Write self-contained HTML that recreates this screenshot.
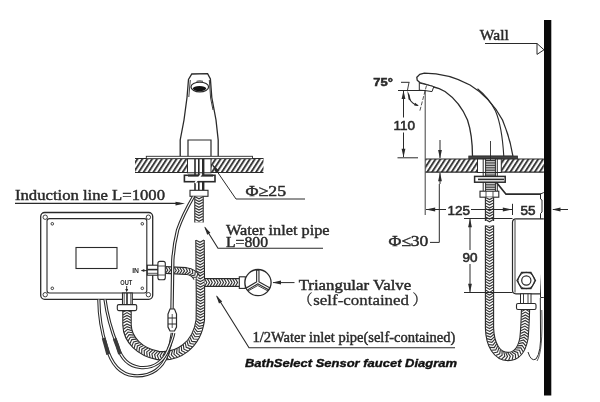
<!DOCTYPE html>
<html><head><meta charset="utf-8"><title>BathSelect Sensor faucet Diagram</title>
<style>
html,body{margin:0;padding:0;background:#fff;}
body{width:600px;height:402px;overflow:hidden;}
svg{display:block;filter:blur(0.4px);}
</style></head><body>
<svg width="600" height="402" viewBox="0 0 600 402">
<rect width="600" height="402" fill="#fff"/>
<g id="art">
<defs>
<pattern id="hatch" width="4.1" height="3" patternUnits="userSpaceOnUse" patternTransform="rotate(33)">
<rect width="4.1" height="3" fill="#fff"/><line x1="1" y1="0" x2="1" y2="3" stroke="#333" stroke-width="1.9"/>
</pattern>
</defs>
<path d="M180.2,156.5 L180.2,140 L184,120 L187,97.5 L188.5,79.5 L191.8,74 L207.6,73.6 L210.4,79 L211.8,97.5 L216,120 L218.2,140 L218.2,156.5" fill="#fff" stroke="#2a2a2a" stroke-width="1.3"/>
<path d="M190.3,80 L188.8,97 M209.3,80 L210.6,98 L213,110" fill="none" stroke="#2a2a2a" stroke-width="0.9"/>
<ellipse cx="199.8" cy="87" rx="8.8" ry="4.9" fill="#fff" stroke="#2a2a2a" stroke-width="1.2"/>
<ellipse cx="199.5" cy="88.6" rx="6.6" ry="2.7" fill="#111"/>
<path d="M196.5,81.3 Q199.8,80.3 203,81.3" fill="none" stroke="#2a2a2a" stroke-width="0.9"/>
<path d="M188,156.5 L188,140 L211,140 L211,156.5" fill="none" stroke="#2a2a2a" stroke-width="1.2"/>
<rect x="135" y="158.5" width="128.5" height="14" fill="url(#hatch)"/>
<line x1="135" y1="158.5" x2="263.5" y2="158.5" stroke="#2a2a2a" stroke-width="1.1" />
<line x1="135" y1="172.5" x2="263.5" y2="172.5" stroke="#2a2a2a" stroke-width="1.2" />
<rect x="146.3" y="156.3" width="106.2" height="2.4" fill="#fff" stroke="#2a2a2a" stroke-width="0.9"/>
<rect x="187.5" y="158.8" width="23.5" height="14" fill="#fff" stroke="#2a2a2a" stroke-width="1"/>
<line x1="195" y1="159" x2="195" y2="190.5" stroke="#2a2a2a" stroke-width="1.6" />
<line x1="198.8" y1="159" x2="198.8" y2="190.5" stroke="#2a2a2a" stroke-width="1.6" />
<line x1="203.2" y1="159" x2="203.2" y2="190.5" stroke="#2a2a2a" stroke-width="2.4" />
<rect x="184.4" y="175.3" width="30.6" height="6.4" fill="#fff" stroke="#2a2a2a" stroke-width="1.6"/>
<line x1="188" y1="175.6" x2="213" y2="175.6" stroke="#2a2a2a" stroke-width="2" />
<path d="M195,183 L201.5,174" stroke="#fff" stroke-width="1.8"/>
<rect x="190" y="190.3" width="18" height="6" fill="#fff" stroke="#2a2a2a" stroke-width="1.1"/>
<path d="M199,196.5 L199,222.5" fill="none" stroke="#2a2a2a" stroke-width="9.5" /><path d="M199,196.5 L199,222.5" fill="none" stroke="#fff" stroke-width="7.3" /><path d="M195.1,196.7L199.0,198.8L202.9,196.7M195.1,199.4L199.0,201.6L202.9,199.4M195.1,202.2L199.0,204.3L202.9,202.2M195.1,205.2L199.0,207.3L202.9,205.2M195.1,207.9L199.0,210.1L202.9,207.9M195.1,210.7L199.0,212.8L202.9,210.7M195.1,213.4L199.0,215.6L202.9,213.4M195.1,216.2L199.0,218.3L202.9,216.2M195.1,219.2L199.0,221.3L202.9,219.2" fill="none" stroke="#333" stroke-width="1.15" stroke-linejoin="miter"/>
<path d="M200,240 L200.5,300 L200.3,320 C197,345 178,358 158,355.5 C140,352 127.5,340 127,325 L127,310" fill="none" stroke="#2a2a2a" stroke-width="9.5" /><path d="M200,240 L200.5,300 L200.3,320 C197,345 178,358 158,355.5 C140,352 127.5,340 127,325 L127,310" fill="none" stroke="#fff" stroke-width="7.3" /><path d="M196.1,240.2L200.0,242.3L204.0,240.1M196.1,242.9L200.0,245.1L204.0,242.9M196.1,245.7L200.1,247.8L204.0,245.6M196.1,248.7L200.1,250.8L204.0,248.6M196.1,251.4L200.1,253.6L204.0,251.4M196.2,254.2L200.1,256.3L204.1,254.1M196.2,256.9L200.2,259.1L204.1,256.9M196.2,259.7L200.2,261.8L204.1,259.6M196.2,262.7L200.2,264.8L204.1,262.6M196.3,265.4L200.2,267.6L204.2,265.4M196.3,268.2L200.3,270.3L204.2,268.1M196.3,270.9L200.3,273.1L204.2,270.9M196.3,273.7L200.3,275.8L204.2,273.6M196.4,276.7L200.3,278.8L204.3,276.6M196.4,279.4L200.3,281.6L204.3,279.4M196.4,282.2L200.4,284.3L204.3,282.1M196.4,284.9L200.4,287.1L204.3,284.9M196.4,287.7L200.4,289.8L204.3,287.6M196.5,290.7L200.4,292.8L204.4,290.6M196.5,293.4L200.5,295.6L204.4,293.4M196.5,296.2L200.5,298.3L204.4,296.1M196.6,298.9L200.5,301.1L204.5,298.9M196.5,301.6L200.5,303.8L204.4,301.7M196.5,304.6L200.4,306.8L204.4,304.7M196.5,307.4L200.4,309.6L204.4,307.4M196.4,310.1L200.4,312.3L204.3,310.2M196.4,312.9L200.3,315.1L204.3,312.9M196.4,315.6L200.3,317.8L204.3,315.7M196.4,318.4L200.2,320.8L204.3,318.9M196.2,320.7L199.7,323.5L204.0,322.1M195.7,323.3L199.1,326.4L203.4,325.2M195.2,325.6L198.3,328.9L202.8,327.9M194.4,328.2L197.3,331.7L201.8,331.0M193.6,330.5L196.3,334.1L200.8,333.7M192.5,332.9L195.0,336.7L199.5,336.5M191.4,335.1L193.6,339.0L198.1,339.2M190.0,337.3L191.9,341.4L196.4,341.9M188.6,339.3L190.2,343.5L194.7,344.3M187.0,341.2L188.3,345.5L192.7,346.7M185.3,343.0L186.2,347.4L190.5,348.9M183.3,344.7L183.9,349.2L188.0,351.0M181.4,346.2L181.6,350.7L185.6,352.8M179.2,347.6L179.1,352.1L182.9,354.5M177.1,348.7L176.6,353.2L180.2,355.9M174.7,349.7L173.9,354.1L177.3,357.2M172.5,350.5L171.3,354.9L174.5,358.1M170.0,351.1L168.5,355.4L171.4,358.9M167.6,351.5L165.8,355.7L168.4,359.4M165.0,351.8L162.9,355.8L165.2,359.7M162.5,351.9L160.1,355.7L162.1,359.8M160.0,351.8L157.3,355.4L159.0,359.6M157.7,351.4L154.6,354.7L155.8,359.1M155.1,350.8L151.9,353.9L152.8,358.4M152.7,350.0L149.3,353.0L150.0,357.5M150.3,349.2L146.7,351.9L147.2,356.4M148.0,348.1L144.2,350.6L144.4,355.2M145.7,347.0L141.8,349.2L141.7,353.7M143.5,345.6L139.5,347.6L139.0,352.1M141.6,344.3L137.4,345.9L136.6,350.4M139.6,342.6L135.3,343.9L134.1,348.3M137.9,340.9L133.5,341.9L131.9,346.1M136.3,339.1L131.8,339.6L129.9,343.7M134.8,337.1L130.3,337.2L128.0,341.1M133.6,335.1L129.1,334.7L126.5,338.4M132.6,332.8L128.1,332.0L125.1,335.4M131.8,330.6L127.5,329.3L124.1,332.4M131.3,328.3L127.1,326.6L123.4,329.3M131.0,326.0L127.0,323.9L123.1,326.2M130.9,323.1L127.0,320.9L123.0,323.1M130.9,320.4L127.0,318.1L123.0,320.4M130.9,317.6L127.0,315.4L123.0,317.6M130.9,314.9L127.0,312.6L123.0,314.9M130.9,312.1L127.0,309.9L123.0,312.1" fill="none" stroke="#333" stroke-width="1.15" stroke-linejoin="miter"/>
<path d="M165.5,270 L186,271 Q194,272 197,278" fill="none" stroke="#2a2a2a" stroke-width="7.8" /><path d="M165.5,270 L186,271 Q194,272 197,278" fill="none" stroke="#fff" stroke-width="5.6" /><path d="M165.5,273.1L167.8,270.1L165.8,266.9M168.3,273.2L170.6,270.2L168.6,267.0M171.0,273.4L173.3,270.4L171.3,267.2M174.0,273.5L176.3,270.5L174.3,267.3M176.8,273.7L179.1,270.7L177.1,267.5M179.5,273.8L181.8,270.8L179.8,267.6M182.3,273.9L184.6,270.9L182.6,267.7M184.9,274.0L187.5,271.2L185.8,267.8M187.2,274.3L190.2,272.0L189.0,268.4M189.4,274.9L192.8,273.2L192.2,269.4M191.2,275.9L194.9,275.0L195.3,271.2M192.8,277.2L196.6,277.2L197.9,273.6" fill="none" stroke="#333" stroke-width="1.15" stroke-linejoin="miter"/>
<path d="M204.5,282.5 L239.5,282.5" fill="none" stroke="#2a2a2a" stroke-width="8.8" /><path d="M204.5,282.5 L239.5,282.5" fill="none" stroke="#fff" stroke-width="6.6000000000000005" /><path d="M204.7,286.1L206.8,282.5L204.7,278.9M207.4,286.1L209.6,282.5L207.4,278.9M210.2,286.1L212.3,282.5L210.2,278.9M213.2,286.1L215.3,282.5L213.2,278.9M215.9,286.1L218.1,282.5L215.9,278.9M218.7,286.1L220.8,282.5L218.7,278.9M221.4,286.1L223.6,282.5L221.4,278.9M224.2,286.1L226.3,282.5L224.2,278.9M227.2,286.1L229.3,282.5L227.2,278.9M229.9,286.1L232.1,282.5L229.9,278.9M232.7,286.1L234.8,282.5L232.7,278.9M235.4,286.1L237.6,282.5L235.4,278.9" fill="none" stroke="#333" stroke-width="1.15" stroke-linejoin="miter"/>
<rect x="239.3" y="276.8" width="6" height="11.6" fill="#fff" stroke="#2a2a2a" stroke-width="1.1"/>
<circle cx="258" cy="282.6" r="13.1" fill="#fff" stroke="#2a2a2a" stroke-width="1.3"/>
<path d="M257.8,269.8 L257.8,282.5 L246.3,289.3 M257.8,282.5 L269.5,289" fill="none" stroke="#2a2a2a" stroke-width="3.4"/>
<path d="M257.8,270.8 L257.8,282.5 L247,288.9 M257.8,282.5 L268.7,288.5" fill="none" stroke="#fff" stroke-width="1.2"/>
<path d="M248,291 L257.8,285.5 L268,291" fill="none" stroke="#2a2a2a" stroke-width="0.9"/>
<rect x="40.7" y="212.5" width="112" height="86.8" rx="4" fill="#fff" stroke="#2a2a2a" stroke-width="1.3"/>
<rect x="47" y="218.6" width="99.8" height="74.4" rx="2.5" fill="#fff" stroke="#2a2a2a" stroke-width="1.1"/>
<rect x="76" y="247.5" width="41" height="21" fill="#fff" stroke="#2a2a2a" stroke-width="1.1"/>
<circle cx="45.2" cy="217.2" r="2.2" fill="#fff" stroke="#2a2a2a" stroke-width="0.9"/>
<circle cx="148.4" cy="217.2" r="2.2" fill="#fff" stroke="#2a2a2a" stroke-width="0.9"/>
<circle cx="45.2" cy="294.7" r="2.2" fill="#fff" stroke="#2a2a2a" stroke-width="0.9"/>
<circle cx="148.4" cy="294.7" r="2.2" fill="#fff" stroke="#2a2a2a" stroke-width="0.9"/>
<circle cx="52.3" cy="223.8" r="1.3" fill="#fff" stroke="#2a2a2a" stroke-width="0.9"/>
<circle cx="142.3" cy="223.8" r="1.3" fill="#fff" stroke="#2a2a2a" stroke-width="0.9"/>
<circle cx="52.3" cy="288.3" r="1.3" fill="#fff" stroke="#2a2a2a" stroke-width="0.9"/>
<circle cx="142.3" cy="288.3" r="1.3" fill="#fff" stroke="#2a2a2a" stroke-width="0.9"/>
<rect x="147.3" y="265.2" width="10.8" height="10" fill="#fff" stroke="#2a2a2a" stroke-width="1.1"/>
<line x1="147.3" y1="269.6" x2="158" y2="269.6" stroke="#2a2a2a" stroke-width="1.6" />
<line x1="147.3" y1="273.3" x2="158" y2="273.3" stroke="#2a2a2a" stroke-width="0.8" />
<rect x="157.9" y="261.4" width="7.4" height="18.4" rx="2" fill="#fff" stroke="#2a2a2a" stroke-width="1.1"/>
<line x1="157.9" y1="266" x2="165.3" y2="266" stroke="#2a2a2a" stroke-width="0.8" />
<line x1="157.9" y1="275" x2="165.3" y2="275" stroke="#2a2a2a" stroke-width="0.8" />
<rect x="122.5" y="293" width="9.8" height="12" fill="#fff" stroke="#2a2a2a" stroke-width="1.1"/>
<line x1="124.2" y1="293" x2="124.2" y2="305" stroke="#2a2a2a" stroke-width="0.8" />
<line x1="127" y1="293" x2="127" y2="305" stroke="#2a2a2a" stroke-width="1.6" />
<line x1="130.8" y1="293" x2="130.8" y2="305" stroke="#2a2a2a" stroke-width="0.8" />
<rect x="117.3" y="304.6" width="19.4" height="6" rx="1.5" fill="#fff" stroke="#2a2a2a" stroke-width="1.1"/>
<text x="132.2" y="273.3" font-family="Liberation Sans, sans-serif" font-weight="bold" font-size="6.3" fill="#2a2a2a" textLength="6.8" lengthAdjust="spacingAndGlyphs">IN</text>
<line x1="141.5" y1="270.6" x2="147" y2="270.6" stroke="#2a2a2a" stroke-width="1" />
<polygon points="141.0,270.6 144.3,269.1 144.3,272.1" fill="#2a2a2a"/>
<text x="120.3" y="285.3" font-family="Liberation Sans, sans-serif" font-weight="bold" font-size="6.8" fill="#2a2a2a" textLength="12" lengthAdjust="spacingAndGlyphs">OUT</text>
<line x1="126.7" y1="286" x2="126.7" y2="291" stroke="#2a2a2a" stroke-width="1" />
<polygon points="126.7,292.3 125.2,289.0 128.2,289.0" fill="#2a2a2a"/>
<path d="M193.5,196.5 C188,206 181,220 177.6,230 C175,240 173.5,250 172.8,260 L172,310" fill="none" stroke="#2a2a2a" stroke-width="3.4"/><path d="M193.5,196.5 C188,206 181,220 177.6,230 C175,240 173.5,250 172.8,260 L172,310" fill="none" stroke="#fff" stroke-width="1.2"/>
<path d="M170,309 L174.5,309 L176.5,314 L176.5,327 L174.5,331 L170,331 L168,327 L168,314 Z" fill="#fff" stroke="#2a2a2a" stroke-width="1.2"/>
<line x1="168" y1="318" x2="176.5" y2="318" stroke="#2a2a2a" stroke-width="1" />
<line x1="168" y1="324" x2="176.5" y2="324" stroke="#2a2a2a" stroke-width="1" />
<line x1="172.2" y1="314" x2="172.2" y2="328" stroke="#2a2a2a" stroke-width="0.8" />
<path d="M98.8,299.5 C99,315 101,330 106.3,346" fill="none" stroke="#2a2a2a" stroke-width="3.2"/><path d="M98.8,299.5 C99,315 101,330 106.3,346" fill="none" stroke="#fff" stroke-width="1.1"/>
<path d="M105,299.5 C107,315 112,332 117.5,346" fill="none" stroke="#2a2a2a" stroke-width="3.2"/><path d="M105,299.5 C107,315 112,332 117.5,346" fill="none" stroke="#fff" stroke-width="1.1"/>
<path d="M106.3,346 C110,360 118,374.2 134,375.7 C152,377 163,367 167,355 C170,347 171.5,340 172.3,333" fill="none" stroke="#2a2a2a" stroke-width="3.2"/><path d="M106.3,346 C110,360 118,374.2 134,375.7 C152,377 163,367 167,355 C170,347 171.5,340 172.3,333" fill="none" stroke="#fff" stroke-width="1.1"/>
<path d="M117.5,346 C121,358 128,366 140,367.5 C155,369 164,360 168,350 C171,343 173,338 173.8,333" fill="none" stroke="#2a2a2a" stroke-width="3.2"/><path d="M117.5,346 C121,358 128,366 140,367.5 C155,369 164,360 168,350 C171,343 173,338 173.8,333" fill="none" stroke="#fff" stroke-width="1.1"/>
<path d="M103.6,338 L105.6,345 L108.2,354.5" fill="none" stroke="#3a3a3a" stroke-width="3.8"/>
<path d="M114.6,338.5 L117,345 L120,354" fill="none" stroke="#3a3a3a" stroke-width="3.8"/>
<text x="15" y="200" font-family="Liberation Serif, serif" stroke="#2a2a2a" stroke-width="0.45" font-size="15.5" fill="#2a2a2a" textLength="150" lengthAdjust="spacingAndGlyphs">Induction line L=1000</text>
<line x1="15" y1="203.4" x2="180" y2="203.4" stroke="#2a2a2a" stroke-width="1.2" />
<polygon points="185.0,203.6 175.5,205.5 175.5,201.7" fill="#2a2a2a"/>
<path d="M213,165.5 L236,199 L305,199" fill="none" stroke="#2a2a2a" stroke-width="1"/>
<polygon points="212.3,164.3 219.1,170.5 215.8,172.8" fill="#2a2a2a"/>
<text x="245.6" y="196" font-family="Liberation Serif, serif" stroke="#2a2a2a" stroke-width="0.45" font-size="15" fill="#2a2a2a" textLength="40.5" lengthAdjust="spacingAndGlyphs">Φ≥25</text>
<text x="226" y="234.6" font-family="Liberation Serif, serif" stroke="#2a2a2a" stroke-width="0.45" font-size="15.5" fill="#2a2a2a" textLength="103.6" lengthAdjust="spacingAndGlyphs">Water inlet pipe</text>
<text x="226" y="246.8" font-family="Liberation Serif, serif" stroke="#2a2a2a" stroke-width="0.45" font-size="15" fill="#2a2a2a" textLength="42" lengthAdjust="spacingAndGlyphs">L=800</text>
<path d="M205,227.5 L218,248.2 L323,248.2" fill="none" stroke="#2a2a2a" stroke-width="1.1"/>
<polygon points="204.3,226.5 210.4,232.7 207.2,234.7" fill="#2a2a2a"/>
<text x="298.7" y="290.2" font-family="Liberation Serif, serif" stroke="#2a2a2a" stroke-width="0.45" font-size="15" fill="#2a2a2a" textLength="112.5" lengthAdjust="spacingAndGlyphs">Triangular Valve</text>
<text y="304.7" font-family="Liberation Serif, Noto Serif CJK SC, serif" font-size="14.5" fill="#2a2a2a" stroke="#2a2a2a" stroke-width="0.3"><tspan x="298">（</tspan><tspan x="313.3" textLength="95.7" lengthAdjust="spacingAndGlyphs">self-contained</tspan><tspan x="412.5">）</tspan></text>
<line x1="273" y1="282.6" x2="294.5" y2="282.6" stroke="#2a2a2a" stroke-width="1" />
<polygon points="272.5,282.6 281.0,280.6 281.0,284.6" fill="#2a2a2a"/>
<text x="252.4" y="341.6" font-family="Liberation Serif, serif" stroke="#2a2a2a" stroke-width="0.45" font-size="15.5" fill="#2a2a2a" textLength="203" lengthAdjust="spacingAndGlyphs">1/2Water inlet pipe(self-contained)</text>
<path d="M217,296.5 L249,347.8 L455,347.8" fill="none" stroke="#2a2a2a" stroke-width="1.1"/>
<polygon points="216.0,295.3 222.2,301.4 219.0,303.5" fill="#2a2a2a"/>
<text x="245" y="366.6" font-family="Liberation Sans, sans-serif" font-weight="bold" font-style="italic" font-size="10.3" fill="#111" stroke="#111" stroke-width="0.35" textLength="212" lengthAdjust="spacingAndGlyphs">BathSelect Sensor faucet Diagram</text>
<rect x="544" y="20" width="7.3" height="375.5" fill="#0a0a0a"/>
<text x="479.8" y="39.6" font-family="Liberation Serif, serif" stroke="#2a2a2a" stroke-width="0.45" font-size="15.5" fill="#2a2a2a" textLength="29" lengthAdjust="spacingAndGlyphs">Wall</text>
<line x1="485" y1="43.5" x2="537" y2="43.5" stroke="#2a2a2a" stroke-width="1" />
<polygon points="537,43.5 544,49.8 537,54.4" fill="#fff" stroke="#2a2a2a" stroke-width="1"/>
<path d="M433.8,86.8 L426,84.3 L419.8,82.6 L417.2,80.2 L416.8,77.2 L419.8,74.3 L424.3,73.2 Q448,73.3 470,85 Q490,97 502.5,120 Q510,138 513,156.5 L472.5,156.5 Q472.5,135 467.5,120 Q460,102 445,91.5 Q439,88 433.8,87 Z" fill="#fff" stroke="#2a2a2a" stroke-width="1.3"/>
<path d="M477.5,88.8 Q489,98 495.5,111 Q502,126 503.8,156.5" fill="none" stroke="#2a2a2a" stroke-width="1.1"/>
<path d="M419.3,83 L426,84.6 L433.8,86.6 L432,91.6 L425.3,90.6 L419.3,90.2 Z" fill="#fff" stroke="#2a2a2a" stroke-width="1"/>
<rect x="468.8" y="156" width="48.7" height="2.8" fill="#444" stroke="#2a2a2a" stroke-width="0.8"/>
<rect x="425.5" y="159" width="118.3" height="13.2" fill="url(#hatch)"/>
<line x1="425.5" y1="159" x2="543.8" y2="159" stroke="#2a2a2a" stroke-width="1.1" />
<line x1="425.5" y1="172.2" x2="543.8" y2="172.2" stroke="#2a2a2a" stroke-width="1.3" />
<rect x="477.5" y="159" width="23.8" height="13.5" fill="#fff" stroke="#2a2a2a" stroke-width="1"/>
<line x1="490.5" y1="141" x2="490.5" y2="160" stroke="#2a2a2a" stroke-width="0.9" />
<line x1="483.2" y1="159" x2="483.2" y2="191" stroke="#2a2a2a" stroke-width="1" />
<line x1="485.6" y1="159" x2="485.6" y2="191" stroke="#2a2a2a" stroke-width="1" />
<line x1="495.4" y1="159" x2="495.4" y2="191" stroke="#2a2a2a" stroke-width="1" />
<line x1="497.3" y1="159" x2="497.3" y2="191" stroke="#2a2a2a" stroke-width="1" />
<path d="M485.6,160.5 h9.8 M485.6,162.2 h9.8 M485.6,163.9 h9.8 M485.6,165.6 h9.8 M485.6,167.3 h9.8 M485.6,169.0 h9.8 M485.6,170.7 h9.8 M485.6,172.4 h9.8 M485.6,174.1 h9.8 M485.6,175.8 h9.8 M485.6,177.5 h9.8 M485.6,179.2 h9.8 M485.6,180.9 h9.8 M485.6,182.6 h9.8 M485.6,184.3 h9.8 M485.6,186.0 h9.8 M485.6,187.7 h9.8 M485.6,189.4 h9.8 " stroke="#2a2a2a" stroke-width="0.95"/>
<rect x="474.6" y="176.4" width="30.6" height="5.8" fill="#fff" stroke="#2a2a2a" stroke-width="1.5"/>
<line x1="478" y1="179.4" x2="504" y2="179.4" stroke="#2a2a2a" stroke-width="1.6" />
<rect x="480" y="191.2" width="18.8" height="6" fill="#fff" stroke="#2a2a2a" stroke-width="1.1"/>
<line x1="486" y1="191.2" x2="486" y2="197.2" stroke="#2a2a2a" stroke-width="0.8" />
<line x1="493" y1="191.2" x2="493" y2="197.2" stroke="#2a2a2a" stroke-width="0.8" />
<path d="M489.5,197.2 L489.5,221" fill="none" stroke="#2a2a2a" stroke-width="9.3" /><path d="M489.5,197.2 L489.5,221" fill="none" stroke="#fff" stroke-width="7.1000000000000005" /><path d="M485.6,197.4L489.5,199.6L493.4,197.4M485.6,200.1L489.5,202.3L493.4,200.1M485.6,202.9L489.5,205.1L493.4,202.9M485.6,205.9L489.5,208.1L493.4,205.9M485.6,208.6L489.5,210.8L493.4,208.6M485.6,211.4L489.5,213.6L493.4,211.4M485.6,214.1L489.5,216.3L493.4,214.1M485.6,216.9L489.5,219.1L493.4,216.9M485.6,219.6L489.5,221.8L493.4,219.6" fill="none" stroke="#333" stroke-width="1.15" stroke-linejoin="miter"/>
<path d="M489.5,225.5 L489.5,328 C490,345 497,356.5 508,356.5 C517,356.5 522,349 524,338 C525,328 525.3,318 525.5,310" fill="none" stroke="#2a2a2a" stroke-width="9.3" /><path d="M489.5,225.5 L489.5,328 C490,345 497,356.5 508,356.5 C517,356.5 522,349 524,338 C525,328 525.3,318 525.5,310" fill="none" stroke="#fff" stroke-width="7.1000000000000005" /><path d="M485.6,225.7L489.5,227.8L493.4,225.7M485.6,228.4L489.5,230.6L493.4,228.4M485.6,231.2L489.5,233.3L493.4,231.2M485.6,234.2L489.5,236.3L493.4,234.2M485.6,236.9L489.5,239.1L493.4,236.9M485.6,239.7L489.5,241.8L493.4,239.7M485.6,242.4L489.5,244.6L493.4,242.4M485.6,245.2L489.5,247.3L493.4,245.2M485.6,248.2L489.5,250.3L493.4,248.2M485.6,250.9L489.5,253.1L493.4,250.9M485.6,253.7L489.5,255.8L493.4,253.7M485.6,256.4L489.5,258.6L493.4,256.4M485.6,259.1L489.5,261.4L493.4,259.1M485.6,262.1L489.5,264.4L493.4,262.1M485.6,264.9L489.5,267.1L493.4,264.9M485.6,267.6L489.5,269.9L493.4,267.6M485.6,270.4L489.5,272.6L493.4,270.4M485.6,273.1L489.5,275.4L493.4,273.1M485.6,276.1L489.5,278.4L493.4,276.1M485.6,278.9L489.5,281.1L493.4,278.9M485.6,281.6L489.5,283.9L493.4,281.6M485.6,284.4L489.5,286.6L493.4,284.4M485.6,287.1L489.5,289.4L493.4,287.1M485.6,290.1L489.5,292.4L493.4,290.1M485.6,292.9L489.5,295.1L493.4,292.9M485.6,295.6L489.5,297.9L493.4,295.6M485.6,298.4L489.5,300.6L493.4,298.4M485.6,301.1L489.5,303.4L493.4,301.1M485.6,304.1L489.5,306.4L493.4,304.1M485.6,306.9L489.5,309.1L493.4,306.9M485.6,309.6L489.5,311.9L493.4,309.6M485.6,312.4L489.5,314.6L493.4,312.4M485.6,315.1L489.5,317.4L493.4,315.1M485.6,318.1L489.5,320.4L493.4,318.1M485.6,320.9L489.5,323.1L493.4,320.9M485.6,323.6L489.5,325.9L493.4,323.6M485.6,326.4L489.5,328.6L493.3,326.4M485.7,329.5L489.7,331.4L493.4,329.0M485.9,332.6L490.0,334.3L493.6,331.7M486.3,335.6L490.5,337.1L493.9,334.3M486.8,338.6L491.1,339.9L494.3,336.8M487.6,341.5L491.9,342.4L494.9,339.2M488.5,344.5L492.9,345.1L495.7,341.6M489.7,347.4L494.2,347.6L496.6,343.9M491.3,350.3L495.7,349.9L497.7,346.0M493.2,353.0L497.5,352.1L498.9,347.9M495.6,355.5L499.7,353.9L500.4,349.5M498.4,357.7L502.1,355.3L502.0,350.9M501.6,359.2L504.8,356.2L503.8,351.9M504.9,360.1L507.5,356.5L505.7,352.5M508.5,360.4L510.3,356.4L507.8,352.7M512.1,359.9L513.1,355.6L509.9,352.6M515.5,358.8L515.5,354.3L511.7,352.0M518.6,356.9L517.6,352.5L513.5,351.1M521.1,354.4L519.5,350.3L515.1,349.7M523.1,351.7L520.9,347.9L516.4,347.9M524.7,349.0L522.0,345.4L517.6,345.9M525.9,346.0L522.9,342.7L518.6,343.6M526.8,343.1L523.6,340.0L519.3,341.2M527.5,340.1L524.1,337.2L520.0,338.7M528.0,337.0L524.3,334.5L520.3,336.4M528.2,334.2L524.5,331.7L520.5,333.6M528.4,331.3L524.7,328.8L520.8,330.8M528.6,328.5L524.9,326.1L520.9,328.1M528.8,325.7L525.0,323.3L521.1,325.3M528.9,322.8L525.2,320.5L521.2,322.5M529.0,320.0L525.3,317.7L521.3,319.7M529.1,317.2L525.4,314.9L521.5,317.0M529.2,314.4L525.4,312.1L521.5,314.2M529.3,311.6L525.5,309.3L521.6,311.4" fill="none" stroke="#333" stroke-width="1.15" stroke-linejoin="miter"/>
<path d="M496.5,182.5 L506,194.2 L541,194.2" fill="none" stroke="#2a2a2a" stroke-width="1.7"/>
<path d="M543.8,192.5 L540.5,194 L540.5,199 L542,200 L542,212 L540.5,213.5 L540.5,297.5 L543.8,297.5" fill="none" stroke="#2a2a2a" stroke-width="1"/>
<path d="M543.8,218.8 L516,218.8 Q512.5,218.8 512.5,222.5 L512.5,290 Q512.5,293.8 516,293.8 L540,293.8" fill="#fff" stroke="#2a2a2a" stroke-width="1.2"/>
<line x1="515" y1="220" x2="515" y2="292.5" stroke="#2a2a2a" stroke-width="0.9" />
<polygon points="535.5,280.5 530.9,288.5 521.6,288.5 517,280.5 521.6,272.5 530.9,272.5" fill="#fff" stroke="#2a2a2a" stroke-width="1.3"/>
<circle cx="526.3" cy="280.5" r="8.2" fill="none" stroke="#2a2a2a" stroke-width="0.8"/>
<circle cx="526.3" cy="280.5" r="4.6" fill="#fff" stroke="#2a2a2a" stroke-width="1.2"/>
<rect x="520.5" y="293.8" width="10.5" height="10" fill="#fff" stroke="#2a2a2a" stroke-width="1"/>
<line x1="523.5" y1="293.8" x2="523.5" y2="303.8" stroke="#2a2a2a" stroke-width="0.9" />
<line x1="528" y1="293.8" x2="528" y2="303.8" stroke="#2a2a2a" stroke-width="0.9" />
<rect x="516.5" y="303.5" width="19.5" height="6" rx="1.5" fill="#fff" stroke="#2a2a2a" stroke-width="1.1"/>
<path d="M540.3,298 L540.5,330 Q541.5,352 536,359 Q531,362 528,352" fill="none" stroke="#2a2a2a" stroke-width="1"/>
<path d="M541.8,310 Q543,352 537,361" fill="none" stroke="#2a2a2a" stroke-width="0.8"/>
<text x="373.3" y="85.5" font-family="Liberation Sans, sans-serif" stroke="#2a2a2a" stroke-width="0.55" font-weight="bold" font-size="11.3" fill="#2a2a2a" textLength="19.5" lengthAdjust="spacingAndGlyphs">75°</text>
<line x1="401" y1="82.3" x2="409.5" y2="82.3" stroke="#2a2a2a" stroke-width="1" />
<path d="M409,82.5 L407.3,91" stroke="#2a2a2a" stroke-width="0.9" fill="none"/>
<polygon points="407.3,90.8 409.6,95 410.6,100.2 408.6,99.5" fill="#2a2a2a"/>
<path d="M409.6,99 Q411.5,103.5 418,105.6" stroke="#2a2a2a" stroke-width="1.1" fill="none"/>
<polygon points="418.8,106 414.2,105.6 415.2,102.8" fill="#2a2a2a"/>
<path d="M426.5,85.5 L419.8,111" stroke="#2a2a2a" stroke-width="0.8" fill="none" stroke-dasharray="4 1.5"/>
<line x1="398" y1="90.5" x2="425.5" y2="90.5" stroke="#2a2a2a" stroke-width="1" />
<line x1="425.2" y1="90" x2="425.2" y2="215" stroke="#2a2a2a" stroke-width="0.9" />
<line x1="403.5" y1="91" x2="403.5" y2="117.5" stroke="#2a2a2a" stroke-width="1" />
<line x1="403.5" y1="132.5" x2="403.5" y2="157" stroke="#2a2a2a" stroke-width="1" />
<polygon points="403.5,90.5 405.4,99.0 401.6,99.0" fill="#2a2a2a"/>
<polygon points="403.5,157.3 401.6,148.8 405.4,148.8" fill="#2a2a2a"/>
<line x1="397.5" y1="157.8" x2="418" y2="157.8" stroke="#2a2a2a" stroke-width="1" />
<text x="393.5" y="130" font-family="Liberation Sans, sans-serif" stroke="#2a2a2a" stroke-width="0.55" font-size="12.5" fill="#2a2a2a" textLength="21.5" lengthAdjust="spacingAndGlyphs">110</text>
<line x1="440" y1="140" x2="440" y2="158" stroke="#2a2a2a" stroke-width="1" />
<polygon points="440.0,158.6 438.1,150.1 441.9,150.1" fill="#2a2a2a"/>
<line x1="440" y1="173" x2="440" y2="184" stroke="#2a2a2a" stroke-width="1" />
<polygon points="440.0,172.7 441.9,181.2 438.1,181.2" fill="#2a2a2a"/>
<line x1="426" y1="209.5" x2="446" y2="209.5" stroke="#2a2a2a" stroke-width="1" />
<line x1="471" y1="209.5" x2="512" y2="209.5" stroke="#2a2a2a" stroke-width="1" />
<polygon points="425.7,209.5 435.2,207.6 435.2,211.4" fill="#2a2a2a"/>
<polygon points="512.3,209.5 502.8,211.4 502.8,207.6" fill="#2a2a2a"/>
<text x="447.5" y="214.5" font-family="Liberation Sans, sans-serif" stroke="#2a2a2a" stroke-width="0.55" font-size="12.5" fill="#2a2a2a" textLength="22.5" lengthAdjust="spacingAndGlyphs">125</text>
<line x1="512.5" y1="203.8" x2="512.5" y2="215" stroke="#2a2a2a" stroke-width="1" />
<text x="520.5" y="214.5" font-family="Liberation Sans, sans-serif" stroke="#2a2a2a" stroke-width="0.55" font-size="12.5" fill="#2a2a2a" textLength="15" lengthAdjust="spacingAndGlyphs">55</text>
<line x1="553" y1="209.5" x2="568" y2="209.5" stroke="#2a2a2a" stroke-width="1" />
<polygon points="552.0,209.5 560.5,207.6 560.5,211.4" fill="#2a2a2a"/>
<text x="388.4" y="246.3" font-family="Liberation Serif, serif" stroke="#2a2a2a" stroke-width="0.45" font-size="15" fill="#2a2a2a" textLength="40" lengthAdjust="spacingAndGlyphs">Φ≤30</text>
<path d="M430,242.4 L439.3,242.4 L439.3,184" fill="none" stroke="#2a2a2a" stroke-width="1"/>
<line x1="464" y1="218.5" x2="512.5" y2="218.5" stroke="#2a2a2a" stroke-width="1" />
<line x1="464" y1="292.5" x2="512.5" y2="292.5" stroke="#2a2a2a" stroke-width="1" />
<line x1="470" y1="219" x2="470" y2="250" stroke="#2a2a2a" stroke-width="1" />
<line x1="470" y1="264" x2="470" y2="292" stroke="#2a2a2a" stroke-width="1" />
<polygon points="470.0,218.8 471.9,227.3 468.1,227.3" fill="#2a2a2a"/>
<polygon points="470.0,292.3 468.1,283.8 471.9,283.8" fill="#2a2a2a"/>
<text x="462.5" y="261.5" font-family="Liberation Sans, sans-serif" stroke="#2a2a2a" stroke-width="0.55" font-size="12.5" fill="#2a2a2a" textLength="15" lengthAdjust="spacingAndGlyphs">90</text>
</g>
</svg>
</body></html>
